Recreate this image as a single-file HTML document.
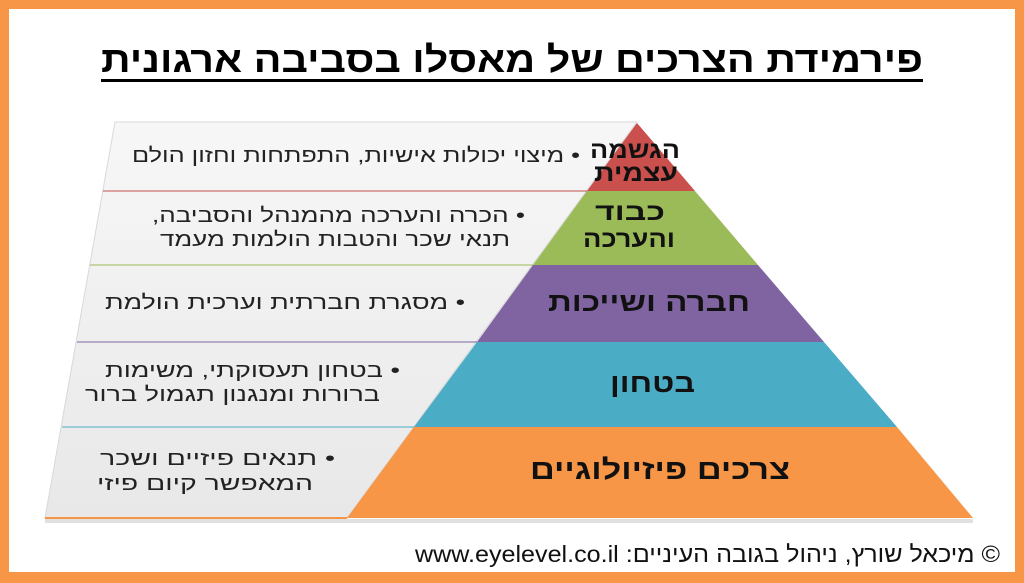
<!DOCTYPE html>
<html><head><meta charset="utf-8"><style>
html,body{margin:0;padding:0;background:#fff}
svg{display:block}
text{font-family:"Liberation Sans","Noto Sans CJK SC",sans-serif}
</style></head><body>
<svg width="1024" height="583" viewBox="0 0 1024 583" xmlns="http://www.w3.org/2000/svg">
<defs>
<linearGradient id="pn" x1="0" y1="0" x2="0" y2="1"><stop offset="0" stop-color="#f7f7f7"/><stop offset="1" stop-color="#e8e8e8"/></linearGradient>
</defs>
<rect x="0" y="0" width="1024" height="583" fill="#f79646"/>
<rect x="9" y="9" width="1006" height="563" fill="#fff"/>
<text x="101" y="72" font-size="36" font-weight="bold" direction="rtl" text-anchor="end" textLength="822" lengthAdjust="spacingAndGlyphs">פירמידת הצרכים של מאסלו בסביבה ארגונית</text>
<rect x="101" y="79" width="822" height="3" fill="#000"/>
<polygon points="115,122 637,122 347,518 45,518" fill="url(#pn)" stroke="#d8d8d8"/>
<line x1="103" y1="191" x2="587" y2="191" stroke="#c0504d" stroke-width="1"/>
<line x1="90" y1="265" x2="533" y2="265" stroke="#9bbb59" stroke-width="1"/>
<line x1="77" y1="342" x2="477" y2="342" stroke="#8064a2" stroke-width="1"/>
<line x1="62" y1="427" x2="414" y2="427" stroke="#4bacc6" stroke-width="1"/>
<line x1="45" y1="518" x2="347" y2="518" stroke="#f79646" stroke-width="2"/>
<rect x="45" y="519" width="302" height="4" fill="#ccc" opacity="0.6"/>
<polygon points="637,123 695,191 587,191" fill="#c9504d"/>
<polygon points="587,191 695,191 758,265 533,265" fill="#9bbb59"/>
<polygon points="533,265 758,265 824,342 477,342" fill="#8064a2"/>
<polygon points="477,342 824,342 897,427 414,427" fill="#4bacc6"/>
<polygon points="414,427 897,427 973,518 347,518" fill="#f79646"/>
<rect x="347" y="519" width="626" height="4" fill="#ccc" opacity="0.6"/>
<g font-weight="bold" direction="rtl" fill="#111">
<text x="590" y="158" font-size="24" text-anchor="end" textLength="90" lengthAdjust="spacingAndGlyphs">הגשמה</text>
<text x="594" y="181" font-size="24" text-anchor="end" textLength="84" lengthAdjust="spacingAndGlyphs">עצמית</text>
<text x="595" y="220" font-size="24" text-anchor="end" textLength="70" lengthAdjust="spacingAndGlyphs">כבוד</text>
<text x="583" y="247" font-size="24" text-anchor="end" textLength="92" lengthAdjust="spacingAndGlyphs">והערכה</text>
<text x="548" y="311" font-size="26" text-anchor="end" textLength="202" lengthAdjust="spacingAndGlyphs">חברה ושייכות</text>
<text x="610" y="392" font-size="26" text-anchor="end" textLength="85" lengthAdjust="spacingAndGlyphs">בטחון</text>
<text x="530" y="479" font-size="28" text-anchor="end" textLength="260" lengthAdjust="spacingAndGlyphs">צרכים פיזיולוגיים</text>
</g>
<g font-size="20" direction="rtl" text-anchor="end" fill="#222">
<text x="132" y="162" textLength="448" lengthAdjust="spacingAndGlyphs">• מיצוי יכולות אישיות, התפתחות וחזון הולם</text>
<text x="152" y="222" textLength="373" lengthAdjust="spacingAndGlyphs">• הכרה והערכה מהמנהל והסביבה,</text>
<text x="160" y="246" textLength="350" lengthAdjust="spacingAndGlyphs">תנאי שכר והטבות הולמות מעמד</text>
<text x="105" y="309" textLength="360" lengthAdjust="spacingAndGlyphs">• מסגרת חברתית וערכית הולמת</text>
<text x="105" y="377" textLength="295" lengthAdjust="spacingAndGlyphs">• בטחון תעסוקתי, משימות</text>
<text x="85" y="401" textLength="295" lengthAdjust="spacingAndGlyphs">ברורות ומנגנון תגמול ברור</text>
<text x="100" y="465" textLength="235" lengthAdjust="spacingAndGlyphs">• תנאים פיזיים ושכר</text>
<text x="97" y="490" textLength="216" lengthAdjust="spacingAndGlyphs">המאפשר קיום פיזי</text>
</g>
<text x="415" y="562" font-size="23" direction="rtl" text-anchor="end" fill="#111" textLength="585" lengthAdjust="spacingAndGlyphs">© מיכאל שורץ, ניהול בגובה העיניים: www.eyelevel.co.il</text>
</svg>
</body></html>
